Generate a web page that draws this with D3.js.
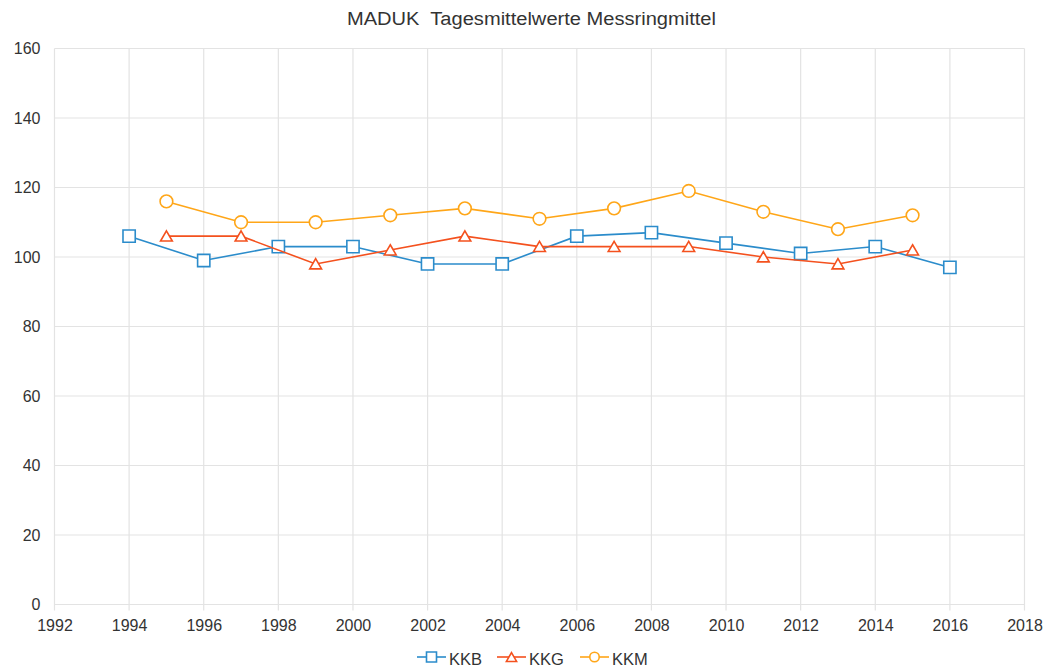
<!DOCTYPE html>
<html>
<head>
<meta charset="utf-8">
<script src="https://cdn.jsdelivr.net/npm/d3@7"></script>
<style>
  html, body { margin: 0; padding: 0; background: #fff; }
  svg { display: block; font-family: "Liberation Sans", Arial, sans-serif; }
</style>
</head>
<body>
<svg id="chart" width="1046" height="669"></svg>
<script>
// Annual values per measuring station
const kkbYears = [1994, 1996, 1998, 2000, 2002, 2004, 2006, 2008, 2010, 2012, 2014, 2016];
const kkbValues = [106, 99, 103, 103, 98, 98, 106, 107, 104, 101, 103, 97];
const kkgYears = [1995, 1997, 1999, 2001, 2003, 2005, 2007, 2009, 2011, 2013, 2015];
const kkgValues = [106, 106, 98, 102, 106, 103, 103, 103, 100, 98, 102];
const kkmYears = [1995, 1997, 1999, 2001, 2003, 2005, 2007, 2009, 2011, 2013, 2015];
const kkmValues = [116, 110, 110, 112, 114, 111, 114, 119, 113, 108, 112];

const xTicks = [1992, 1994, 1996, 1998, 2000, 2002, 2004, 2006, 2008, 2010, 2012, 2014, 2016, 2018];
const yTicks = [0, 20, 40, 60, 80, 100, 120, 140, 160];
const seriesNames = ["KKB", "KKG", "KKM"];
const chartTitle = "MADUK  Tagesmittelwerte Messringmittel";

const colors = { KKB: "#2b8ccb", KKG: "#f4511e", KKM: "#ffa618" };
const shapes = { KKB: d3.symbolSquare, KKG: d3.symbolTriangle, KKM: d3.symbolCircle };
const sizes = { KKB: 150, KKG: 60, KKM: 126 };
const legendSizes = { KKB: 100, KKG: 45, KKM: 70 };
// triangles are shifted so that their bounding box is centred on the point
const yShift = { KKB: 0, KKG: 1.5, KKM: 0 };

const series = [
  { name: "KKB", data: kkbYears.map((yr, i) => ({ x: yr, v: kkbValues[i] })) },
  { name: "KKG", data: kkgYears.map((yr, i) => ({ x: yr, v: kkgValues[i] })) },
  { name: "KKM", data: kkmYears.map((yr, i) => ({ x: yr, v: kkmValues[i] })) }
];

const svg = d3.select("#chart");
const plot = { left: 54.5, right: 1024.5, top: 48.5, bottom: 604.5 };

const x = d3.scaleLinear().domain([1992, 2018]).range([plot.left, plot.right]);
const y = d3.scaleLinear().domain([0, 160]).range([plot.bottom, plot.top]);

// Title
svg.append("text")
  .attr("x", 531.5).attr("y", 25)
  .attr("text-anchor", "middle")
  .attr("font-size", 18)
  .attr("fill", "#333")
  .attr("textLength", 369)
  .attr("lengthAdjust", "spacingAndGlyphs")
  .style("white-space", "pre")
  .text(chartTitle);

// Grid lines
const grid = svg.append("g");
grid.selectAll("line.h").data(yTicks).join("line")
  .attr("class", "h")
  .attr("x1", plot.left).attr("x2", plot.right)
  .attr("y1", d => y(d)).attr("y2", d => y(d))
  .attr("stroke", "#e3e3e3").attr("stroke-width", 1.2);
grid.selectAll("line.v").data(xTicks).join("line")
  .attr("class", "v")
  .attr("x1", d => x(d)).attr("x2", d => x(d))
  .attr("y1", plot.top).attr("y2", plot.bottom + 6)
  .attr("stroke", "#e3e3e3").attr("stroke-width", 1.2);

// Axes
const xAxis = svg.append("g")
  .attr("transform", `translate(0,${plot.bottom})`)
  .call(d3.axisBottom(x).tickValues(xTicks).tickFormat(d3.format("d")).tickSize(0).tickPadding(15));
const yAxis = svg.append("g")
  .attr("transform", `translate(${plot.left},0)`)
  .call(d3.axisLeft(y).tickValues(yTicks).tickSize(0).tickPadding(14));
[xAxis, yAxis].forEach(a => {
  a.select(".domain").remove();
  a.selectAll("text").attr("font-size", 16).attr("fill", "#333")
    .attr("font-family", "Liberation Sans, Arial, sans-serif");
});

// Lines and markers
const line = d3.line().x(d => x(d.x)).y(d => y(d.v));
series.forEach(s => {
  const g = svg.append("g");
  g.append("path").datum(s.data)
    .attr("d", line)
    .attr("fill", "none")
    .attr("stroke", colors[s.name])
    .attr("stroke-width", 1.6);
  g.selectAll("path.m").data(s.data).join("path")
    .attr("class", "m")
    .attr("transform", d => `translate(${x(d.x)},${y(d.v) + yShift[s.name]})`)
    .attr("d", d3.symbol().type(shapes[s.name]).size(sizes[s.name]))
    .attr("fill", "#fff")
    .attr("stroke", colors[s.name])
    .attr("stroke-width", 1.6);
});

// Legend
const legend = svg.append("g").attr("transform", "translate(0,657)");
const legendX = [417, 497, 580];
seriesNames.forEach((name, i) => {
  const g = legend.append("g").attr("transform", `translate(${legendX[i]},0)`);
  g.append("line").attr("x1", 0).attr("x2", 29).attr("y1", 0).attr("y2", 0)
    .attr("stroke", colors[name]).attr("stroke-width", 1.6);
  g.append("path")
    .attr("transform", `translate(14.5,${yShift[name]})`)
    .attr("d", d3.symbol().type(shapes[name]).size(legendSizes[name]))
    .attr("fill", "#fff").attr("stroke", colors[name]).attr("stroke-width", 1.6);
  g.append("text").attr("x", 32).attr("y", 8)
    .attr("font-size", 16.5).attr("fill", "#333").text(name);
});
</script>
</body>
</html>
